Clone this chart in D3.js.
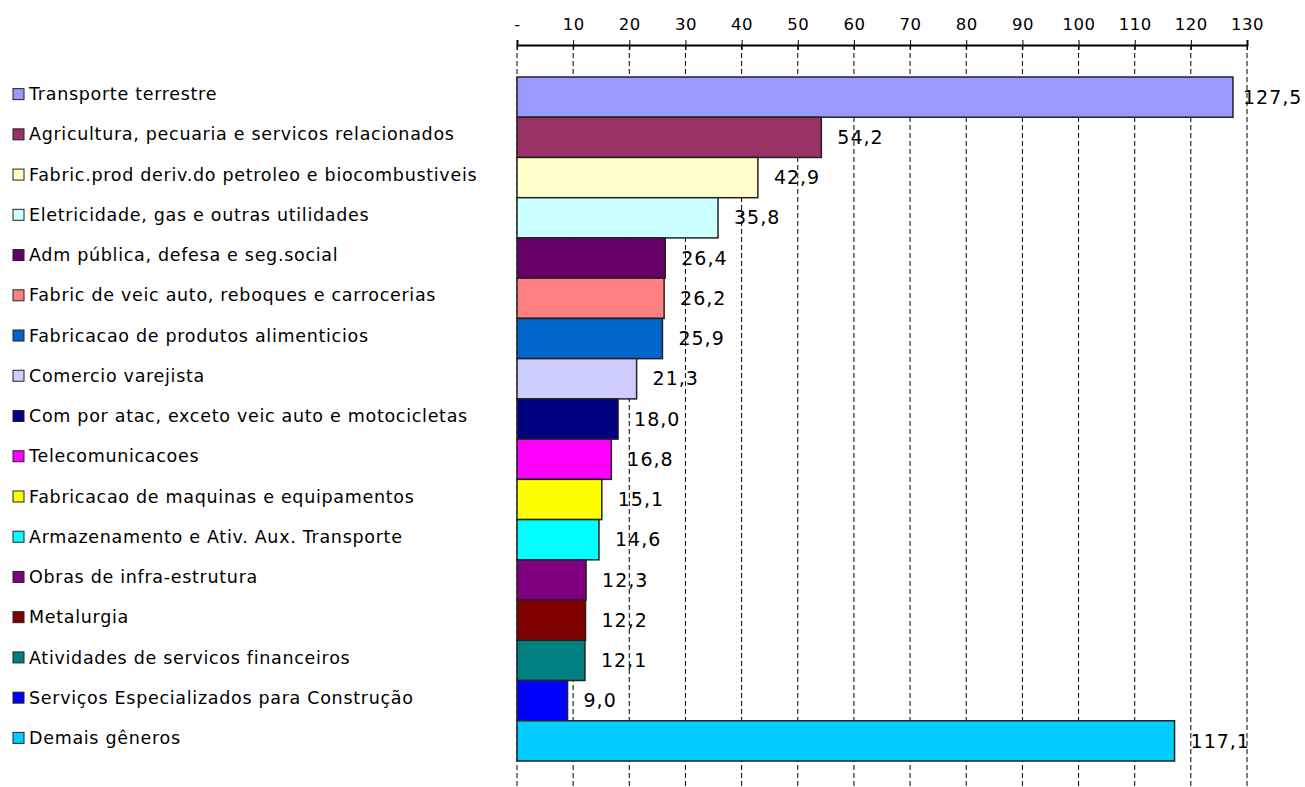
<!DOCTYPE html>
<html>
<head>
<meta charset="utf-8">
<script src="https://cdn.jsdelivr.net/npm/d3@7"></script>
<style>
  body { margin: 0; background: #fff; }
  text { font-family: "DejaVu Sans", Verdana, sans-serif; fill: #000; }
</style>
</head>
<body>
<div id="app"></div>
<script>
var categories = [
    "Transporte terrestre",
    "Agricultura, pecuaria e servicos relacionados",
    "Fabric.prod deriv.do petroleo e biocombustiveis",
    "Eletricidade, gas e outras utilidades",
    "Adm pública, defesa e seg.social",
    "Fabric de veic auto, reboques e carrocerias",
    "Fabricacao de produtos alimenticios",
    "Comercio varejista",
    "Com por atac, exceto veic auto e motocicletas",
    "Telecomunicacoes",
    "Fabricacao de maquinas e equipamentos",
    "Armazenamento e Ativ. Aux. Transporte",
    "Obras de infra-estrutura",
    "Metalurgia",
    "Atividades de servicos financeiros",
    "Serviços Especializados para Construção",
    "Demais gêneros"
];

var values = [127.5, 54.2, 42.9, 35.8, 26.4, 26.2, 25.9, 21.3, 18.0, 16.8, 15.1, 14.6, 12.3, 12.2, 12.1, 9.0, 117.1];

var colors = ["#9999FF", "#993366", "#FFFFCC", "#CCFFFF", "#660066", "#FF8080", "#0066CC", "#CCCCFF",
    "#000080", "#FF00FF", "#FFFF00", "#00FFFF", "#800080", "#800000", "#008080", "#0000FF", "#00CCFF"];

var tickValues = d3.range(0, 131, 10);

var width = 1305,
    height = 787;

var svg = d3.select("#app").append("svg")
    .attr("width", width)
    .attr("height", height);

var x = d3.scaleLinear()
    .domain([0, 130])
    .range([517, 1247]);

var y = d3.scaleBand()
    .domain(categories)
    .range([77, 761])
    .padding(0);

var fmt = function(v) { return v === 0 ? "-" : d3.format("d")(v); };

// dashed gridlines
svg.append("g")
    .selectAll("line")
    .data(tickValues)
    .enter().append("line")
    .attr("x1", function(d) { return x(d); })
    .attr("x2", function(d) { return x(d); })
    .attr("y1", 45)
    .attr("y2", height)
    .attr("stroke", "#000")
    .attr("stroke-width", 1)
    .attr("stroke-dasharray", "5,3");

// top axis
var axis = svg.append("g")
    .attr("transform", "translate(0,45)")
    .call(d3.axisTop(x).tickValues(tickValues).tickFormat(fmt).tickSize(5).tickPadding(10));

axis.select(".domain").attr("stroke", "#000").attr("stroke-width", 2);
axis.selectAll(".tick line").attr("stroke", "#000").attr("y2", 5).attr("y1", -5);
axis.selectAll(".tick text")
    .style("font-family", "'DejaVu Sans', Verdana, sans-serif")
    .style("font-size", "16.5px")
    .style("letter-spacing", "0.5px")
    .attr("fill", "#000");

// bars
svg.append("g")
    .selectAll("rect")
    .data(values)
    .enter().append("rect")
    .attr("x", x(0))
    .attr("y", function(d, i) { return y(categories[i]); })
    .attr("width", function(d) { return x(d) - x(0); })
    .attr("height", y.bandwidth())
    .attr("fill", function(d, i) { return colors[i]; })
    .attr("stroke", "#222")
    .attr("stroke-width", 1.5);

// value labels
svg.append("g")
    .selectAll("text")
    .data(values)
    .enter().append("text")
    .attr("x", function(d) { return Math.min(x(d) + 16, width - 62); })
    .attr("y", function(d, i) { return y(categories[i]) + y.bandwidth() / 2; })
    .attr("dy", "0.35em")
    .style("font-size", "19px")
    .style("letter-spacing", "1px")
    .text(function(d) { return d3.format(".1f")(d).replace(".", ","); });

// legend-like category labels
var legend = svg.append("g")
    .selectAll("g")
    .data(categories)
    .enter().append("g")
    .attr("transform", function(d) { return "translate(0," + (y(d) + y.bandwidth() / 2 - 3) + ")"; });

legend.append("rect")
    .attr("x", 13)
    .attr("y", -5.5)
    .attr("width", 11)
    .attr("height", 11)
    .attr("fill", function(d, i) { return colors[i]; })
    .attr("stroke", "#222")
    .attr("stroke-width", 1);

legend.append("text")
    .attr("x", 29)
    .attr("y", 0)
    .attr("dy", "0.35em")
    .style("font-size", "17.5px")
    .style("letter-spacing", "0.7px")
    .text(function(d) { return d; });
</script>
</body>
</html>
